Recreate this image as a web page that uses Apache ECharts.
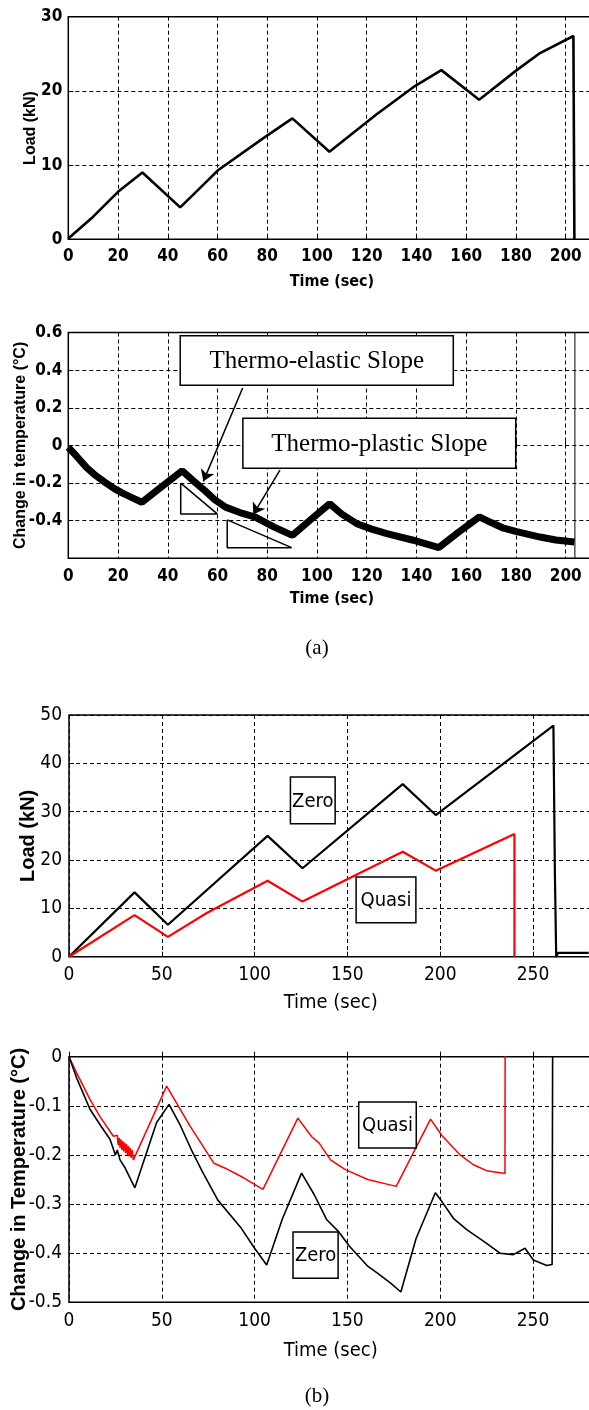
<!DOCTYPE html>
<html><head><meta charset="utf-8">
<script src="https://cdn.jsdelivr.net/npm/echarts@6/dist/echarts.min.js"></script>
<style>html,body{margin:0;padding:0;background:#fff}#c{width:589px;height:1410px}</style>
</head><body><div id="c"></div>
<script>
// ---------- data ----------
// (a) top: load vs time
const timeTicksA = [0, 20, 40, 60, 80, 100, 120, 140, 160, 180, 200];
const loadA = [[0,0.1],[10,3.05],[20,6.4],[29.8,9.0],[45,4.3],[56.3,8.0],[60.2,9.3],[78.3,13.6],[90.1,16.3],[105,11.8],[123.6,16.75],[138.7,20.5],[150,22.8],[165.2,18.8],[180.3,22.8],[189.7,25.1],[203.1,27.4],[203.5,0]];
// (a) bottom: change in temperature vs time
const tempA = [[0,-0.01],[3.5,-0.06],[7.3,-0.117],[11,-0.16],[14.8,-0.196],[18.5,-0.23],[22.4,-0.258],[26,-0.28],[29.6,-0.302],[37,-0.225],[45.8,-0.135],[50,-0.185],[54.9,-0.24],[59,-0.29],[63.2,-0.328],[69,-0.357],[75.2,-0.381],[82.8,-0.434],[90.1,-0.478],[97,-0.4],[105.1,-0.31],[110,-0.365],[116,-0.416],[122,-0.445],[128.1,-0.469],[138.7,-0.504],[149,-0.543],[157,-0.46],[165.3,-0.38],[170,-0.41],[175,-0.44],[180.3,-0.458],[189.7,-0.487],[196,-0.503],[203.5,-0.513]];
const tempAJump = [[203.7,-0.6],[203.7,0.6]];
const elasticTriangle = [[45.2,-0.2005],[45.2,-0.364],[59.9,-0.364],[45.2,-0.2005]];
const plasticTriangle = [[63.9,-0.396],[63.9,-0.5435],[89.8,-0.5435],[63.9,-0.396]];
const arrowsA = [[[70.1,0.305],[54.3,-0.191]],[[85.1,-0.131],[74.4,-0.367]]];
const boxesA = [
  {text:'Thermo-elastic Slope', x1:45.0, y1:0.583, x2:154.8, y2:0.319},
  {text:'Thermo-plastic Slope', x1:70.2, y1:0.144, x2:179.9, y2:-0.122}
];
// (b) top: load vs time
const loadZero = [[0,0],[35.3,13.3],[53.3,6.6],[107,25],[125.8,18.3],[179.8,35.7],[197.6,29.3],[261,47.8],[261.8,17],[262.5,0],[263.5,0.8],[280,0.8]];
const loadQuasi = [[0,0],[35.3,8.6],[53.3,4.1],[74,9.0],[107,15.7],[125.8,11.4],[179.8,21.7],[197.6,17.8],[240,25.4],[240,0]];
const boxesB1 = [
  {text:'Zero', x1:119.3, y1:37.2, x2:143.4, y2:27.5},
  {text:'Quasi', x1:154.7, y1:16.5, x2:186.9, y2:7.0}
];
// (b) bottom: change in temperature vs time
const tempQuasi = [[0,0],[4.1,-0.033],[11.3,-0.087],[16.7,-0.122],[23.9,-0.162],[26,-0.16],[26.5,-0.18],[27,-0.165],[27.5,-0.185],[28,-0.168],[28.5,-0.19],[29,-0.172],[29.5,-0.193],[30,-0.175],[30.5,-0.196],[31,-0.178],[31.5,-0.2],[32,-0.182],[32.5,-0.203],[33,-0.186],[33.5,-0.206],[34,-0.19],[34.7,-0.21],[52.6,-0.06],[65,-0.14],[78.1,-0.217],[84.2,-0.227],[94.3,-0.247],[104.5,-0.27],[123.3,-0.125],[130.8,-0.163],[134.8,-0.176],[140.9,-0.21],[148.9,-0.23],[161,-0.25],[176.3,-0.264],[194.8,-0.127],[200.8,-0.16],[210.7,-0.2],[217.9,-0.22],[225,-0.232],[234.9,-0.238],[235,0.05]];
const tempZero = [[0,0],[4.1,-0.043],[11.3,-0.107],[17,-0.14],[22.1,-0.168],[25,-0.2],[26,-0.19],[27.5,-0.21],[30,-0.225],[35.5,-0.267],[47.2,-0.134],[53.9,-0.097],[60,-0.14],[66,-0.19],[72,-0.235],[80.2,-0.292],[92.4,-0.347],[100,-0.39],[106.5,-0.424],[115,-0.33],[125.3,-0.237],[132,-0.28],[138.9,-0.332],[145,-0.355],[151.1,-0.386],[161.1,-0.427],[166,-0.44],[173.3,-0.461],[178.8,-0.479],[187,-0.37],[197.4,-0.277],[200,-0.29],[207.1,-0.329],[214.3,-0.352],[225,-0.38],[232.2,-0.4],[239.4,-0.403],[245.7,-0.39],[250.2,-0.414],[257.4,-0.425],[260.3,-0.423],[260.6,0.05]];
const boxesB2 = [
  {text:'Quasi', x1:156.1, y1:-0.0923, x2:187.1, y2:-0.186},
  {text:'Zero', x1:120.7, y1:-0.357, x2:145, y2:-0.451}
];

// ---------- styling ----------
const NARROW = '"Liberation Sans Narrow","Arial Narrow","Nimbus Sans Narrow","DejaVu Sans Condensed",sans-serif';
const SANS = '"Liberation Sans",Arial,sans-serif';
const SERIF = '"Liberation Serif","Times New Roman",serif';
const dash = {color:'#000', type:[4,3], width:1};

function xAxis(gi, max, interval, o) {
  return {type:'value', gridIndex:gi, min:0, max:max, interval:interval,
    axisLine:{show:false}, axisTick:{show:true, inside:true, length:5, lineStyle:{color:'#000'}},
    splitLine:{show:true, lineStyle:dash},
    axisLabel:{showMaxLabel:false, color:'#000', fontFamily:NARROW, fontSize:o.fs, fontWeight:o.fw, margin:o.lm},
    name:'Time (sec)', nameLocation:'middle', nameGap:o.ng, nameMoveOverlap:false,
    nameTextStyle:{color:'#000', fontFamily:NARROW, fontSize:o.nfs, fontWeight:o.fw}};
}
function yAxis(gi, min, max, interval, name, o) {
  return {type:'value', gridIndex:gi, min:min, max:max, interval:interval,
    axisLine:{show:false}, axisTick:{show:true, inside:true, length:5, lineStyle:{color:'#000'}},
    splitLine:{show:true, lineStyle:dash},
    axisLabel:{showMinLabel:o.showMin !== false, color:'#000', fontFamily:NARROW, fontSize:o.fs, fontWeight:o.fw, margin:o.lm,
      formatter: v => String(Math.round(v*10)/10)},
    name:name, nameLocation:'middle', nameGap:o.ng, nameRotate:90, nameMoveOverlap:false,
    nameTextStyle:{color:'#000', fontFamily:SANS, fontSize:o.nfs, fontWeight:'bold'}};
}
function line(xi, data, color, width, z) {
  return {type:'line', xAxisIndex:xi, yAxisIndex:xi, data:data, symbol:'none', z:z||3,
    lineStyle:{color:color, width:width}, silent:true};
}
function boxes(xi, list, font, fs) {
  return {type:'custom', xAxisIndex:xi, yAxisIndex:xi, z:20, silent:true, clip:false,
    encode:{x:[0,2], y:[1,3]},
    data:list.map(b => [b.x1, b.y1, b.x2, b.y2]),
    renderItem:(params, api) => {
      const b = list[params.dataIndex];
      const p1 = api.coord([api.value(0), api.value(1)]);
      const p2 = api.coord([api.value(2), api.value(3)]);
      return {type:'group', children:[
        {type:'rect', shape:{x:p1[0], y:p1[1], width:p2[0]-p1[0], height:p2[1]-p1[1]},
          style:{fill:'#fff', stroke:'#000', lineWidth:1.5}},
        {type:'text', x:(p1[0]+p2[0])/2, y:(p1[1]+p2[1])/2+1,
          style:{text:b.text, fontFamily:font, fontSize:fs, fill:'#000', align:'center', verticalAlign:'middle'}}
      ]};
    }};
}

const gridCommon = {show:true, borderColor:'#000', borderWidth:1.5, containLabel:false, outerBoundsMode:'none', backgroundColor:'transparent'};
const option = {
  animation:false,
  backgroundColor:'#fff',
  grid:[
    Object.assign({left:68.3, top:16.7, width:212*2.487, height:222.6}, gridCommon),
    Object.assign({left:68.3, top:332.5, width:212*2.487, height:225.8}, gridCommon),
    Object.assign({left:69, top:715, width:282*1.856, height:241.7}, gridCommon),
    Object.assign({left:69, top:1056.7, width:282*1.856, height:245.6}, gridCommon)
  ],
  xAxis:[
    xAxis(0, 212, 20, {fs:17, fw:'bold', lm:9, ng:35, nfs:16}),
    xAxis(1, 212, 20, {fs:17, fw:'bold', lm:10, ng:33, nfs:16}),
    xAxis(2, 282, 50, {fs:19, fw:'normal', lm:9, ng:36, nfs:20}),
    xAxis(3, 282, 50, {fs:19, fw:'normal', lm:9, ng:38, nfs:20})
  ],
  yAxis:[
    yAxis(0, 0, 30, 10, 'Load (kN)', {fs:17, fw:'bold', lm:6, ng:30, nfs:16}),
    yAxis(1, -0.6, 0.6, 0.2, 'Change in temperature (°C)', {fs:17, fw:'bold', lm:6, ng:40, nfs:16, showMin:false}),
    yAxis(2, 0, 50, 10, 'Load (kN)', {fs:19, fw:'normal', lm:7, ng:31, nfs:20}),
    yAxis(3, -0.5, 0, 0.1, 'Change in Temperature (°C)', {fs:19, fw:'normal', lm:7, ng:40, nfs:20})
  ],
  series:[
    line(0, loadA, '#000', 2.6),
    line(1, tempA, '#000', 7),
    line(1, tempAJump, '#000', 1),
    Object.assign(line(1, elasticTriangle, '#000', 1.5, 15), {
      markLine:{silent:true, symbol:['none','arrow'], symbolSize:11, label:{show:false},
        lineStyle:{color:'#000', width:1.5, type:'solid'},
        data:arrowsA.map(a => [{coord:a[0]}, {coord:a[1]}])}
    }),
    line(1, plasticTriangle, '#000', 1.5, 15),
    boxes(1, boxesA, SERIF, 25),
    line(2, loadZero, '#000', 2.2),
    line(2, loadQuasi, '#ff0000', 2.2),
    boxes(2, boxesB1, NARROW, 20),
    line(3, tempQuasi, '#ff0000', 1.5),
    line(3, tempZero, '#000', 1.6),
    boxes(3, boxesB2, NARROW, 20)
  ],
  graphic:[
    {type:'text', x:317, y:648, style:{text:'(a)', fontFamily:SERIF, fontSize:21, fill:'#000', align:'center', verticalAlign:'middle'}},
    {type:'text', x:317, y:1396, style:{text:'(b)', fontFamily:SERIF, fontSize:21, fill:'#000', align:'center', verticalAlign:'middle'}}
  ]
};
const chart = echarts.init(document.getElementById('c'), null, {renderer:'canvas'});
chart.setOption(option);
</script>
</body></html>
